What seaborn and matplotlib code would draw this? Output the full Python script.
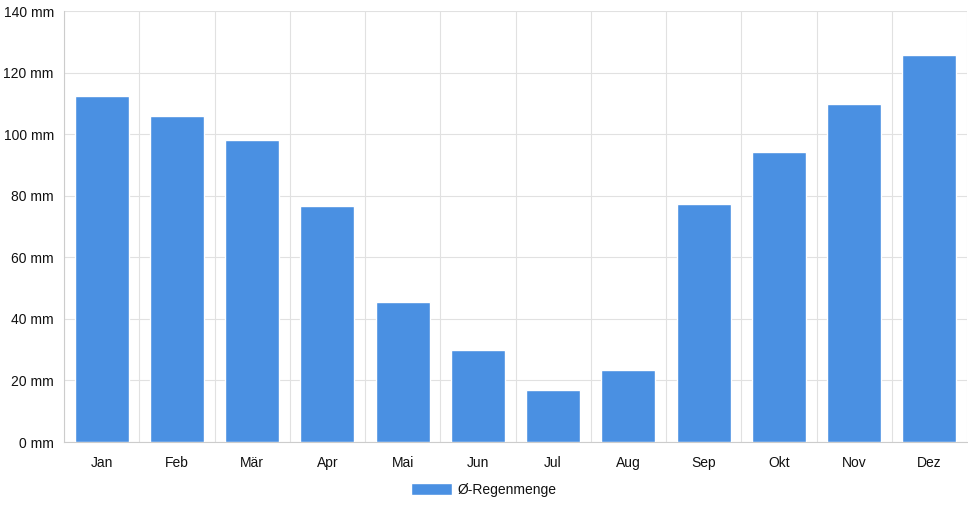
import numpy as np
import pandas as pd
import seaborn as sns
import matplotlib.pyplot as plt
from matplotlib.ticker import FixedLocator

# Monthly data
months = ["Jan", "Feb", "Mär", "Apr", "Mai", "Jun", "Jul", "Aug", "Sep", "Okt", "Nov", "Dez"]
rain_mm = [112.3, 105.8, 98.0, 76.8, 45.6, 30.0, 16.9, 23.4, 77.2, 94.1, 109.7, 125.7]
y_ticks = [0, 20, 40, 60, 80, 100, 120, 140]
series_name = "Ø-Regenmenge"

df = pd.DataFrame({"Monat": months, "Regen": rain_mm})

sns.set_style("white")
plt.rcParams["font.family"] = ["Liberation Sans", "DejaVu Sans"]

fig = plt.figure(figsize=(9.68, 5.08), dpi=100)
ax = fig.add_axes([64 / 968, 1 - 442 / 508, (967 - 64) / 968, (442 - 11) / 508])

bar_color = "#4a90e2"
sns.barplot(data=df, x="Monat", y="Regen", color=bar_color, width=0.72,
            saturation=1, ax=ax, label=series_name, zorder=3)

grid_color = "#e1e1e1"
text_color = "#111111"
fs = 10
ax.set_xlim(-0.5, len(months) - 0.5)
ax.set_ylim(0, 140)
ax.set_yticks(y_ticks)
ax.set_yticklabels([f"{v} mm" for v in y_ticks], fontsize=fs)
ax.tick_params(axis="x", which="major", length=0, labelsize=fs, pad=10,
               labelcolor=text_color)
ax.xaxis.set_minor_locator(FixedLocator(np.arange(-0.5, len(months) + 0.5, 1)))
ax.tick_params(axis="x", which="minor", length=5.8, color=grid_color)
ax.tick_params(axis="y", length=5.8, color=grid_color, pad=1.5,
               labelcolor=text_color)
ax.grid(axis="y", color=grid_color, linewidth=0.8, zorder=0)
ax.grid(axis="x", which="minor", color=grid_color, linewidth=0.8, zorder=0)
ax.set_axisbelow(True)

for side in ["top", "right"]:
    ax.spines[side].set_visible(False)
for side in ["left", "bottom"]:
    ax.spines[side].set_color("#cccccc")
    ax.spines[side].set_linewidth(0.8)

ax.set_xlabel("")
ax.set_ylabel("")

handles, labels = ax.get_legend_handles_labels()
fig.legend(handles, labels, loc="center", bbox_to_anchor=(0.5, 1 - 490 / 508),
           frameon=False, fontsize=fs, handlelength=2.9, handleheight=0.95,
           handletextpad=0.45, labelcolor=text_color)
if ax.get_legend() is not None:
    ax.get_legend().remove()

fig.savefig("out.png", dpi=100)
